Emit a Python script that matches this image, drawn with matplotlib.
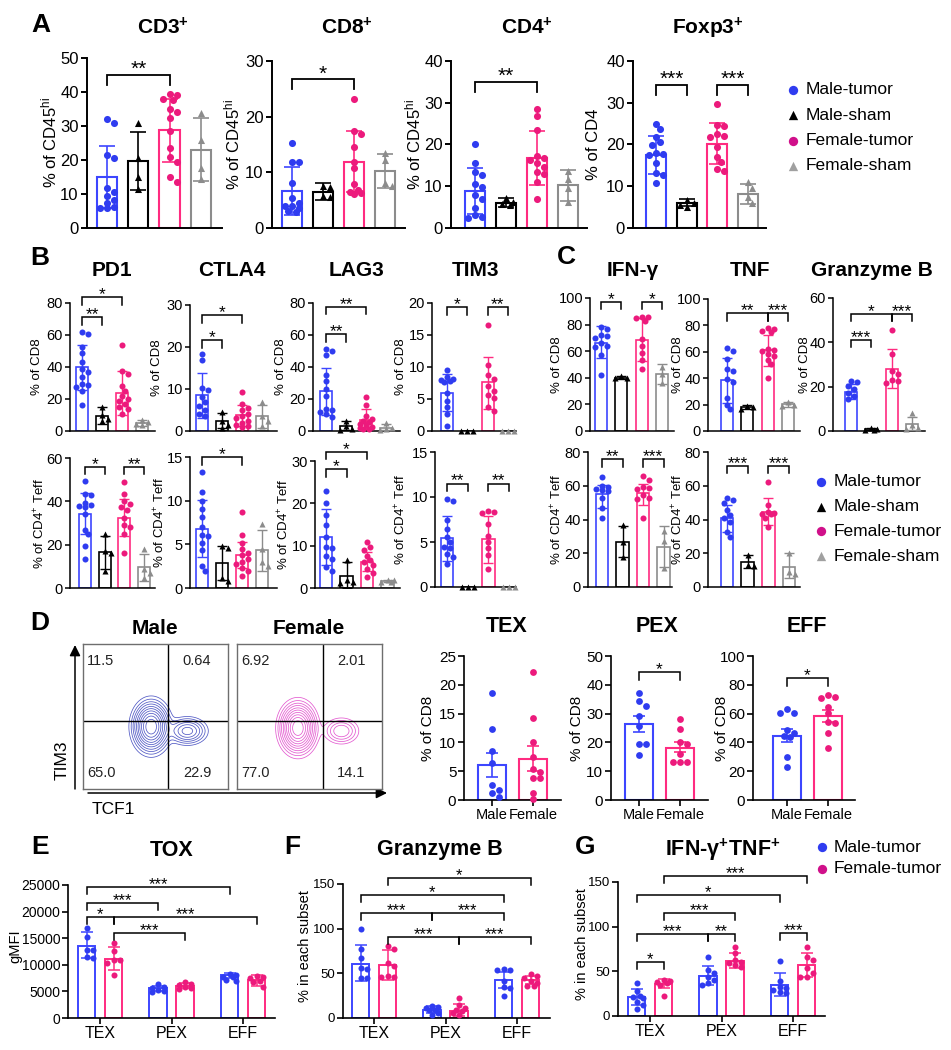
import numpy as np
import matplotlib
matplotlib.use("Agg")
import matplotlib.pyplot as plt

plt.rcParams['font.family'] = ['Liberation Sans', 'DejaVu Sans']
plt.rcParams['mathtext.fontset'] = 'custom'
plt.rcParams['mathtext.rm'] = 'Liberation Sans'
plt.rcParams['mathtext.it'] = 'Liberation Sans:italic'
plt.rcParams['mathtext.bf'] = 'Liberation Sans:bold'

# ---------------- DATA ----------------
GROUPS4 = ['Male-tumor', 'Male-sham', 'Female-tumor', 'Female-sham']

# Panel A
CD3_MEAN = [15.0, 19.7, 28.8, 23.0]
CD3_LO = [5.8, 11.2, 19.5, 13.7]
CD3_HI = [24.2, 28.2, 38.0, 32.3]
CD3_PTS = [[32.0, 31.0, 21.5, 20.5, 11.8, 10.7, 9.4, 8.2, 7.3, 6.3, 6.0, 6.0],
           [31.0, 20.5, 15.0, 11.5],
           [39.3, 39.0, 37.8, 37.5, 35.0, 34.2, 32.3, 28.5, 23.5, 21.0, 19.5, 15.0, 13.5],
           [33.9, 26.0, 17.5, 14.5]]
CD3_SIG = [(0, 2, 45.0, '**')]

CD8_MEAN = [6.6, 6.5, 11.9, 10.2]
CD8_LO = [2.3, 5.0, 6.4, 7.2]
CD8_HI = [11.0, 8.0, 17.4, 13.3]
CD8_PTS = [[15.2, 11.9, 11.8, 8.0, 5.4, 4.5, 3.9, 3.6, 3.0, 2.8, 4.0],
           [7.5, 7.4, 5.7, 5.5],
           [23.1, 17.5, 16.9, 14.5, 11.9, 10.7, 7.9, 6.9, 6.5, 6.3, 6.1],
           [13.5, 12.2, 8.0, 7.5]]
CD8_SIG = [(0, 2, 26.7, '*')]

CD4_MEAN = [8.9, 6.0, 16.7, 10.2]
CD4_LO = [3.4, 5.0, 10.2, 6.5]
CD4_HI = [14.4, 7.1, 23.3, 13.9]
CD4_PTS = [[20.1, 15.5, 13.5, 12.7, 10.5, 9.9, 7.9, 6.9, 4.7, 3.1, 2.7, 2.5],
           [7.3, 6.2, 5.8, 5.6],
           [28.4, 26.8, 23.5, 17.2, 16.8, 16.3, 15.5, 14.7, 13.5, 13.0, 7.0, 11.0],
           [13.6, 11.8, 9.5, 6.3]]
CD4_SIG = [(0, 2, 35.0, '**')]

FOXP3_MEAN = [17.5, 6.0, 20.2, 8.2]
FOXP3_LO = [13.0, 5.2, 15.3, 5.8]
FOXP3_HI = [22.0, 6.9, 25.2, 10.6]
FOXP3_PTS = [[24.9, 23.6, 21.9, 20.5, 19.9, 18.0, 17.7, 17.5, 15.5, 13.1, 12.7, 10.8],
             [6.7, 5.9, 5.5, 5.1],
             [29.6, 24.7, 24.4, 22.5, 22.1, 21.8, 19.5, 17.1, 15.7, 14.1, 13.7],
             [11.0, 9.6, 7.5, 6.0]]
FOXP3_SIG = [(0, 1, 34.3, '***'), (2, 3, 34.3, '***')]

# Panel B, CD8
PD1_MEAN = [39.9, 9.5, 23.7, 5.0]
PD1_LO = [25.8, 4.5, 10.0, 3.0]
PD1_HI = [54.0, 15.0, 37.8, 6.9]
PD1_PTS = [[61.9, 60.9, 52.5, 48.7, 43.0, 38.9, 36.7, 33.6, 29.4, 29.0, 27.3, 25.2, 16.4],
           [15.0, 10.0, 7.5, 6.3],
           [53.5, 37.8, 35.7, 28.3, 25.2, 22.0, 20.0, 18.9, 16.8, 14.7, 13.7, 10.5],
           [6.8, 5.6, 4.5, 3.5]]
PD1_SIG = [(0, 1, 71.0, '**'), (0, 2, 83.6, '*')]

CTLA4_MEAN = [8.5, 2.4, 3.8, 3.5]
CTLA4_LO = [3.1, 0.6, 1.3, 0.8]
CTLA4_HI = [13.9, 4.3, 6.3, 6.2]
CTLA4_PTS = [[18.3, 16.8, 10.2, 9.7, 8.2, 7.0, 6.0, 5.0, 4.0, 3.5],
             [4.5, 2.5, 1.5, 0.8],
             [9.3, 6.5, 5.5, 5.0, 4.0, 3.5, 3.0, 2.5, 2.0, 1.5, 1.2, 1.0],
             [7.0, 3.5, 2.5, 1.2]]
CTLA4_SIG = [(0, 1, 21.6, '*'), (0, 2, 27.6, '*')]

LAG3_MEAN = [24.9, 2.9, 6.8, 2.0]
LAG3_LO = [10.3, 0.5, 1.0, 0.5]
LAG3_HI = [39.5, 6.4, 13.6, 4.5]
LAG3_PTS = [[51.5, 50.0, 47.5, 35.3, 31.2, 26.0, 22.0, 14.0, 13.0, 12.0, 10.5, 9.0],
            [6.5, 3.0, 1.5, 0.5],
            [21.5, 16.5, 9.5, 7.5, 6.5, 5.5, 4.5, 3.5, 2.5, 2.0, 1.5, 1.0],
            [4.8, 2.0, 1.0, 0.5]]
LAG3_SIG = [(0, 1, 60.6, '**'), (0, 2, 77.7, '**')]

TIM3_MEAN = [6.0, 0.0, 7.6, 0.0]
TIM3_LO = [3.1, 0.0, 3.5, 0.0]
TIM3_HI = [8.9, 0.0, 11.6, 0.0]
TIM3_PTS = [[9.6, 8.4, 8.2, 8.0, 7.8, 7.6, 5.9, 4.7, 3.8, 2.6, 0.8],
            [0.0, 0.0, 0.0],
            [16.6, 10.3, 8.8, 8.1, 7.0, 6.3, 5.7, 5.2, 3.7, 3.2],
            [0.0, 0.0, 0.0]]
TIM3_SIG = [(0, 1, 19.3, '*'), (2, 3, 19.3, '**')]

# Panel B, CD4+ Teff
PD1T_MEAN = [34.3, 16.4, 32.4, 9.5]
PD1T_LO = [25.0, 8.9, 23.8, 3.2]
PD1T_HI = [43.7, 23.9, 41.0, 15.8]
PD1T_PTS = [[49.4, 43.3, 43.0, 39.4, 38.5, 38.0, 37.5, 34.0, 27.0, 24.7, 19.2, 13.3],
            [25.0, 17.0, 16.0, 8.0],
            [49.0, 43.3, 40.0, 39.0, 37.5, 36.0, 32.4, 29.3, 28.0, 24.7, 16.1],
            [18.0, 9.0, 7.0, 4.5]]
PD1T_SIG = [(0, 1, 56.0, '*'), (2, 3, 56.0, '**')]

CTLA4T_MEAN = [6.8, 2.85, 3.8, 4.3]
CTLA4T_LO = [3.5, 0.9, 2.3, 2.0]
CTLA4T_HI = [10.1, 4.8, 5.3, 6.6]
CTLA4T_PTS = [[13.3, 11.0, 10.0, 9.1, 8.1, 7.0, 6.1, 5.9, 5.1, 4.4, 1.9, 2.5],
              [4.8, 4.6, 1.2, 0.8],
              [8.7, 6.1, 5.2, 4.5, 4.0, 3.8, 3.3, 3.0, 2.7, 2.3, 1.9, 1.4],
              [7.3, 4.5, 3.0, 2.5]]
CTLA4T_SIG = [(0, 2, 15.0, '*')]

LAG3T_MEAN = [12.0, 2.9, 6.2, 1.65]
LAG3T_LO = [5.5, 0.0, 4.0, 1.3]
LAG3T_HI = [18.6, 6.2, 8.6, 2.0]
LAG3T_PTS = [[23.0, 20.0, 17.2, 14.9, 12.1, 9.8, 9.5, 7.6, 6.8, 5.0, 4.0],
             [6.5, 2.0, 1.5, 1.2],
             [10.9, 9.8, 9.0, 7.6, 6.5, 6.2, 5.4, 4.5, 3.6, 2.7],
             [2.0, 1.8, 1.5, 1.3]]
LAG3T_SIG = [(0, 1, 28.1, '*'), (0, 2, 32.2, '*')]

TIM3T_MEAN = [5.4, 0.0, 5.3, 0.0]
TIM3T_LO = [2.9, 0.0, 2.7, 0.0]
TIM3T_HI = [7.9, 0.0, 7.9, 0.0]
TIM3T_PTS = [[9.8, 9.6, 7.5, 6.5, 5.6, 5.0, 4.5, 4.3, 3.7, 3.3, 2.6],
             [0.0, 0.0, 0.0],
             [8.4, 8.3, 8.2, 7.0, 5.7, 5.0, 4.3, 3.6, 2.0],
             [0.0, 0.0, 0.0]]
TIM3T_SIG = [(0, 1, 11.5, '**'), (2, 3, 11.5, '**')]

# Panel C
IFNG_MEAN = [66.2, 40.1, 68.7, 42.5]
IFNG_LO = [55.0, 38.8, 53.0, 35.0]
IFNG_HI = [78.6, 41.5, 84.8, 50.0]
IFNG_PTS = [[78.5, 77.0, 72.5, 71.5, 70.0, 66.0, 64.0, 63.0, 57.5, 41.8],
            [41.0, 40.0, 39.5],
            [86.0, 85.5, 85.0, 83.0, 69.0, 64.2, 58.7, 53.7, 46.8],
            [48.0, 43.0, 36.0]]
IFNG_SIG = [(0, 1, 97.2, '*'), (2, 3, 97.2, '*')]

TNF_MEAN = [38.5, 18.0, 61.0, 20.3]
TNF_LO = [21.0, 16.5, 49.5, 18.5]
TNF_HI = [55.4, 19.5, 72.9, 22.0]
TNF_PTS = [[62.9, 60.4, 54.7, 46.6, 45.5, 39.1, 37.1, 25.3, 20.0, 16.5],
           [19.0, 18.0, 17.0],
           [78.0, 77.5, 76.0, 75.0, 62.0, 61.0, 60.4, 58.5, 56.6, 54.1, 50.4, 40.4],
           [22.0, 20.0, 19.0]]
TNF_SIG = [(0, 2, 89.2, '**'), (2, 3, 89.2, '***')]

GZB_MEAN = [17.6, 0.8, 27.8, 3.3]
GZB_LO = [14.5, 0.3, 19.2, 0.5]
GZB_HI = [21.0, 1.3, 37.2, 6.1]
GZB_PTS = [[22.5, 22.0, 20.3, 18.8, 17.0, 15.8, 14.5],
           [1.2, 0.8, 0.5, 0.4],
           [45.7, 34.9, 27.0, 25.5, 23.0, 22.5, 21.5],
           [8.0, 2.5, 1.5, 1.0]]
GZB_SIG = [(0, 1, 41.2, '***'), (0, 2, 52.8, '*'), (2, 3, 52.8, '***')]

IFNGT_MEAN = [54.9, 26.9, 55.9, 23.9]
IFNGT_LO = [46.6, 17.6, 48.8, 11.8]
IFNGT_HI = [60.5, 36.1, 61.0, 36.1]
IFNGT_PTS = [[65.4, 60.0, 59.0, 58.0, 57.5, 57.0, 52.6, 46.6, 40.7],
             [36.5, 26.5, 17.6],
             [65.8, 63.4, 59.1, 58.5, 58.0, 54.5, 52.6, 52.0, 40.7],
             [33.0, 27.0, 11.5]]
IFNGT_SIG = [(0, 1, 75.8, '**'), (2, 3, 75.8, '***')]

TNFT_MEAN = [40.7, 14.6, 44.6, 12.0]
TNFT_LO = [32.8, 11.0, 37.0, 5.5]
TNFT_HI = [48.6, 19.0, 52.9, 20.3]
TNFT_PTS = [[52.6, 51.5, 49.6, 45.6, 42.7, 41.0, 38.7, 32.8, 29.8],
            [19.0, 13.0, 12.5],
            [62.4, 48.6, 44.6, 44.0, 43.5, 43.0, 40.7, 35.7],
            [20.0, 9.0, 7.5]]
TNFT_SIG = [(0, 1, 71.9, '***'), (2, 3, 71.9, '***')]

# Panel D
SEX_LABELS = ['Male', 'Female']
MALE_QUAD = ['11.5', '0.64', '65.0', '22.9']
FEMALE_QUAD = ['6.92', '2.01', '77.0', '14.1']
# density blobs: (centre x, centre y, sd x, sd y, weight) in gate-box fractions
MALE_BLOBS = [(0.47, 0.43, 0.058, 0.08, 1.0), (0.72, 0.40, 0.065, 0.045, 0.35)]
FEMALE_BLOBS = [(0.42, 0.42, 0.058, 0.08, 1.0), (0.72, 0.40, 0.06, 0.045, 0.22)]
FLOW_LEVELS = [0.03, 0.06, 0.1, 0.15, 0.22, 0.3, 0.4, 0.52, 0.66, 0.82]

TEX_MEAN = [6.0, 7.1]
TEX_LO = [4.0, 5.0]
TEX_HI = [8.1, 9.3]
TEX_PTS = [[18.6, 12.4, 8.5, 6.5, 2.6, 1.8, 1.3, 0.6],
           [22.2, 14.3, 10.1, 7.4, 5.3, 4.9, 3.8, 3.8, 1.3, 0.2]]
PEX_MEAN = [26.3, 18.2]
PEX_LO = [23.7, 16.5]
PEX_HI = [29.3, 20.0]
PEX_PTS = [[37.2, 34.3, 32.6, 29.1, 25.6, 19.4, 19.4, 15.6],
           [28.1, 24.8, 20.0, 19.6, 15.9, 13.3, 13.3, 13.3]]
PEX_SIG = [(0, 1, 44.5, '*')]
EFF_MEAN = [44.4, 58.3]
EFF_LO = [40.0, 54.4]
EFF_HI = [49.0, 62.5]
EFF_PTS = [[63.0, 60.6, 60.6, 48.6, 46.8, 44.4, 44.0, 30.0, 23.0],
           [72.9, 71.8, 71.0, 64.8, 60.2, 54.4, 53.7, 46.3, 35.9]]
EFF_SIG = [(0, 1, 85.0, '*')]

# Panels E-G (bars: TEX-M, TEX-F, PEX-M, PEX-F, EFF-M, EFF-F)
SUBSETS = ['TEX', 'PEX', 'EFF']
TOX_MEAN = [13560, 11100, 5600, 6100, 8000, 7100]
TOX_LO = [11250, 9100, 5100, 5700, 7600, 6100]
TOX_HI = [16100, 13400, 6100, 6500, 8400, 8000]
TOX_PTS = [[17000, 15200, 12800, 12800, 11500, 11300],
           [14100, 12600, 10900, 10900, 10400, 8100],
           [6400, 5900, 5600, 5300, 5000, 4900],
           [6700, 6400, 5900, 5600, 5400, 6200],
           [8300, 8100, 7800, 7700, 7200, 6900],
           [7900, 7800, 7500, 6900, 6700, 5900]]
TOX_SIG = [(0, 4, 24700, '***'), (0, 2, 21600, '***'), (0, 1, 18900, '*'),
           (1, 5, 18900, '***'), (1, 3, 15900, '***')]

GZBS_MEAN = [61.0, 59.3, 8.6, 7.5, 42.0, 42.0]
GZBS_LO = [41.3, 43.0, 5.6, 2.6, 33.8, 38.0]
GZBS_HI = [81.8, 76.0, 13.0, 16.0, 51.7, 47.0]
GZBS_PTS = [[100, 77, 66.8, 56.3, 55, 45, 45],
            [80.6, 77.6, 61.9, 58, 46.9, 46, 45.7],
            [13.9, 12.4, 11.3, 9.4, 8.6, 5.6, 3.7],
            [22.5, 15, 11.3, 9, 7.5, 5.6, 3.7],
            [55, 53.6, 53.6, 41.3, 34.9, 33.8, 24.4],
            [48.8, 46.9, 45, 41.3, 39.4, 35.6, 35.6]]
GZBS_SIG = [(1, 5, 156.4, '*'), (0, 4, 137.6, '*'), (0, 2, 118, '***'),
            (2, 4, 118, '***'), (1, 3, 90.7, '***'), (3, 5, 90.7, '***')]

DP_MEAN = [20.8, 35.7, 45.0, 61.8, 34.6, 56.9]
DP_LO = [12.3, 30.9, 34.6, 54.0, 22.7, 43.9]
DP_HI = [29.8, 40.9, 55.8, 70.7, 47.6, 70.0]
DP_PTS = [[36.5, 28.3, 22.3, 20.8, 19.7, 16.0, 12.3, 7.4],
          [40.2, 39.4, 38.3, 36.5, 34.6, 22.3],
          [65.5, 51.4, 47.6, 43.9, 40.2, 36.5, 34.6],
          [77.4, 70.7, 62.5, 60.7, 58.8, 56.9, 55.0],
          [61.8, 39.4, 32.7, 30.9, 29.0, 27.2, 25.3],
          [76.7, 65.5, 62.5, 53.2, 48.4, 43.9, 43.2]]
DP_SIG = [(1, 5, 156.3, '***'), (0, 4, 135.8, '*'), (1, 3, 115.7, '***'),
          (0, 2, 92.3, '***'), (2, 3, 92.3, '**'), (4, 5, 93.4, '***'), (0, 1, 60.7, '*')]

# ---------------- STYLE ----------------
BLUE = '#2f3cf0'
BLUE_E = '#3d46ff'
PINK = '#ec1a7c'
PINK_E = '#ff2b80'
GRAY = '#8c8c8c'
BLACK = '#000000'
LEG_PINK = '#d0108a'
LEG_GRAY = '#a0a0a0'
C4 = [BLUE, BLACK, PINK, GRAY]
E4 = [BLUE_E, BLACK, PINK_E, GRAY]
M4 = ['o', '^', 'o', '^']

W, H = 951, 1050
fig = plt.figure(figsize=(W / 100, H / 100), dpi=100)


def rect(L, R, T, B):
    return [L / W, 1 - B / H, (R - L) / W, (B - T) / H]


def make_ax(L, R, T, B, ymax, x0px, sp, yticks, lw=1.2, tfs=10, tlen=4):
    ax = fig.add_axes(rect(L, R, T, B))
    ax.set_xlim((L - x0px) / sp, (R - x0px) / sp)
    ax.set_ylim(0, ymax)
    ax.patch.set_alpha(0)
    for s in ['top', 'right']:
        ax.spines[s].set_visible(False)
    for s in ['left', 'bottom']:
        ax.spines[s].set_linewidth(lw)
    ax.set_yticks(yticks)
    ax.set_xticks([])
    ax.tick_params(axis='both', length=tlen, width=lw, labelsize=tfs, pad=1.5)
    ax._ypx = (B - T) / ymax
    ax._xpx = sp
    return ax


def swarm(vals, ypx, xpx, d, maxw):
    placed = []
    res = [0.0] * len(vals)
    order = sorted(range(len(vals)), key=lambda i: -vals[i])
    step = d * 0.5
    cands = [0.0]
    k = 1
    while k * step <= maxw + 0.01:
        cands += [k * step, -k * step]
        k += 1
    for i in order:
        y = vals[i] * ypx
        best = None
        for c in cands:
            if all((c - px) ** 2 + (y - py) ** 2 >= (d * 0.9) ** 2 for px, py in placed):
                best = c
                break
        if best is None:
            best = max(cands, key=lambda c: min((c - px) ** 2 + (y - py) ** 2 for px, py in placed))
        placed.append((best, y))
        res[i] = best / xpx
    return np.array(res)


def draw_bars(ax, xs, means, lo, hi, pts, cols, ecols, mks, width, lw, s, cap, elw):
    dpx = np.sqrt(s) * 100 / 72.0
    halfw = width * ax._xpx / 2 - dpx / 2
    for i, x in enumerate(xs):
        ax.bar(x, means[i], width=width, facecolor='none', edgecolor=ecols[i],
               linewidth=lw, zorder=2)
        if hi[i] > lo[i]:
            ax.errorbar(x, means[i], yerr=[[means[i] - lo[i]], [hi[i] - means[i]]],
                        fmt='none', ecolor=ecols[i], elinewidth=elw, capsize=cap,
                        capthick=elw, zorder=3)
        offs = swarm(pts[i], ax._ypx, ax._xpx, dpx, max(halfw, dpx))
        ax.scatter(x + offs, pts[i], s=s, marker=mks[i], color=cols[i], zorder=4,
                   clip_on=False, linewidths=0)


def bracket(ax, xa, xb, y, label, drop_px, fs, off, lw=1.0):
    dy = drop_px / ax._ypx
    ax.plot([xa, xa, xb, xb], [y - dy, y, y, y - dy], color='k', lw=lw, clip_on=False,
            solid_joinstyle='miter', zorder=5)
    ax.annotate(label, xy=((xa + xb) / 2, y), xytext=(0, off), textcoords='offset points',
                ha='center', va='baseline', fontsize=fs, annotation_clip=False)


# overlay in pixel coordinates for titles / labels / legends
ov = fig.add_axes([0, 0, 1, 1])
ov.set_xlim(0, W)
ov.set_ylim(H, 0)
ov.axis('off')


def title(x, y, s, fs=15):
    ov.text(x, y, s, ha='center', va='center', fontsize=fs, fontweight='bold')


def ylab(x, y, s, fs):
    ov.text(x, y, s, ha='center', va='center', rotation=90, fontsize=fs)


def letter(x, y, s):
    ov.text(x, y, s, ha='center', va='center', fontsize=19, fontweight='bold')


# ---------------- PANEL A ----------------
letter(41, 25, 'A')
A_SPECS = [
    (87, 222, 58, 107, 31.3, 50, [0, 10, 20, 30, 40, 50], CD3_MEAN, CD3_LO, CD3_HI, CD3_PTS, CD3_SIG,
     'CD3$^{\\mathbf{+}}$', '% of CD45$^{\\mathrm{hi}}$', 49),
    (272, 405, 61, 292, 31.0, 30, [0, 10, 20, 30], CD8_MEAN, CD8_LO, CD8_HI, CD8_PTS, CD8_SIG,
     'CD8$^{\\mathbf{+}}$', '% of CD45$^{\\mathrm{hi}}$', 232),
    (451, 587, 61, 475, 31.0, 40, [0, 10, 20, 30, 40], CD4_MEAN, CD4_LO, CD4_HI, CD4_PTS, CD4_SIG,
     'CD4$^{\\mathbf{+}}$', '% of CD45$^{\\mathrm{hi}}$', 413),
    (633, 766, 61, 656, 30.7, 40, [0, 10, 20, 30, 40], FOXP3_MEAN, FOXP3_LO, FOXP3_HI, FOXP3_PTS,
     FOXP3_SIG, 'Foxp3$^{\\mathbf{+}}$', '% of CD4', 594),
]
for (L, R, T, x0, sp, ymax, yt, mean, lo, hi, pts, sig, ttl, yl, ylx) in A_SPECS:
    B = 228
    ax = make_ax(L, R, T, B, ymax, x0, sp, yt, lw=1.4, tfs=12, tlen=4.5)
    draw_bars(ax, range(4), mean, lo, hi, pts, C4, E4, M4, 0.65, 1.5, 26, 5.5, 1.2)
    for a, b, y, lab in sig:
        bracket(ax, a, b, y, lab, 10, 15, 0, lw=1.3)
    title((L + R) / 2 + 8, 28, ttl, 15)
    ylab(ylx, (T + B) / 2, yl, 12)

# legend A
for k, (lab, col, mk) in enumerate(zip(GROUPS4, [BLUE, BLACK, LEG_PINK, LEG_GRAY], M4)):
    y = 90 + k * 25.3
    ov.scatter([793], [y], s=45, marker=mk, color=col, linewidths=0)
    ov.text(806, y, lab, ha='left', va='center', fontsize=12.5)

# ---------------- PANELS B, C ----------------
letter(40, 258, 'B')
letter(566, 257, 'C')
BC_SPECS = [
    # L, R, T, B, x0, sp, ymax, yticks, mean, lo, hi, pts, sig, title, ylabel, ylx
    (70, 155, 303, 431, 82, 20.0, 80, [0, 20, 40, 60, 80], PD1_MEAN, PD1_LO, PD1_HI, PD1_PTS, PD1_SIG, 'PD1', '% of CD8', 37),
    (190, 277, 305, 431, 202, 20.0, 30, [0, 10, 20, 30], CTLA4_MEAN, CTLA4_LO, CTLA4_HI, CTLA4_PTS, CTLA4_SIG, 'CTLA4', '% of CD8', 157),
    (313, 400, 303, 431, 326, 20.0, 80, [0, 20, 40, 60, 80], LAG3_MEAN, LAG3_LO, LAG3_HI, LAG3_PTS, LAG3_SIG, 'LAG3', '% of CD8', 281),
    (432, 516, 303, 431, 447, 20.3, 20, [0, 5, 10, 15, 20], TIM3_MEAN, TIM3_LO, TIM3_HI, TIM3_PTS, TIM3_SIG, 'TIM3', '% of CD8', 401),
    (590, 674, 298, 431, 601, 20.3, 100, [0, 20, 40, 60, 80, 100], IFNG_MEAN, IFNG_LO, IFNG_HI, IFNG_PTS, IFNG_SIG, 'IFN-γ', '% of CD8', 557),
    (708, 800, 299, 431, 727, 20.3, 100, [0, 20, 40, 60, 80, 100], TNF_MEAN, TNF_LO, TNF_HI, TNF_PTS, TNF_SIG, 'TNF', '% of CD8', 678),
    (833, 925, 298, 431, 851, 20.3, 60, [0, 20, 40, 60], GZB_MEAN, GZB_LO, GZB_HI, GZB_PTS, GZB_SIG, 'Granzyme B', '% of CD8', 805),
    (70, 155, 458, 588, 85, 19.7, 60, [0, 20, 40, 60], PD1T_MEAN, PD1T_LO, PD1T_HI, PD1T_PTS, PD1T_SIG, None, '% of CD4$^{+}$ Teff', 40),
    (190, 277, 457, 588, 202, 20.0, 15, [0, 5, 10, 15], CTLA4T_MEAN, CTLA4T_LO, CTLA4T_HI, CTLA4T_PTS, CTLA4T_SIG, None, '% of CD4$^{+}$ Teff', 160),
    (315, 400, 461, 588, 326, 20.5, 30, [0, 10, 20, 30], LAG3T_MEAN, LAG3T_LO, LAG3T_HI, LAG3T_PTS, LAG3T_SIG, None, '% of CD4$^{+}$ Teff', 284),
    (435, 516, 452, 587, 447, 20.7, 15, [0, 5, 10, 15], TIM3T_MEAN, TIM3T_LO, TIM3T_HI, TIM3T_PTS, TIM3T_SIG, None, '% of CD4$^{+}$ Teff', 401),
    (588, 672, 452, 587, 602, 20.5, 80, [0, 20, 40, 60, 80], IFNGT_MEAN, IFNGT_LO, IFNGT_HI, IFNGT_PTS, IFNGT_SIG, None, '% of CD4$^{+}$ Teff', 557),
    (708, 800, 452, 587, 727, 20.7, 80, [0, 20, 40, 60, 80], TNFT_MEAN, TNFT_LO, TNFT_HI, TNFT_PTS, TNFT_SIG, None, '% of CD4$^{+}$ Teff', 678),
]
TITLE_X = {'PD1': 112, 'CTLA4': 232, 'LAG3': 356, 'TIM3': 475, 'IFN-γ': 633, 'TNF': 750, 'Granzyme B': 872}
for (L, R, T, B, x0, sp, ymax, yt, mean, lo, hi, pts, sig, ttl, yl, ylx) in BC_SPECS:
    ax = make_ax(L, R, T, B, ymax, x0, sp, yt, lw=1.1, tfs=10.5, tlen=3.5)
    draw_bars(ax, range(4), mean, lo, hi, pts, C4, E4, M4, 0.6, 1.2, 19, 3.5, 1.0)
    for a, b, y, lab in sig:
        bracket(ax, a, b, y, lab, 7.5, 12.5, -1.5, lw=1.1)
    if ttl:
        title(TITLE_X[ttl], 270, ttl, 15)
    ylab(ylx, (T + B) / 2, yl, 9.5)

# legend C
for k, (lab, col, mk) in enumerate(zip(GROUPS4, [BLUE, BLACK, LEG_PINK, LEG_GRAY], M4)):
    y = 482 + k * 24.7
    ov.scatter([821], [y], s=45, marker=mk, color=col, linewidths=0)
    ov.text(834, y, lab, ha='left', va='center', fontsize=12.5)

# ---------------- PANEL D ----------------
letter(40, 623, 'D')


def flow(L, R, T, B, blobs, qx, qy, color, labels):
    ax = fig.add_axes(rect(L, R, T, B))
    ax.set_xlim(0, 1)
    ax.set_ylim(0, 1)
    ax.set_xticks([])
    ax.set_yticks([])
    for s in ax.spines.values():
        s.set_color('#6e6e6e')
        s.set_linewidth(1.0)
    g = np.linspace(0, 1, 300)
    X, Y = np.meshgrid(g, g)
    Z = np.zeros_like(X)
    for cx, cy, sx, sy, w in blobs:
        Z += w * np.exp(-((X - cx) ** 2 / (2 * sx ** 2) + (Y - cy) ** 2 / (2 * sy ** 2)))
    ax.contour(X, Y, Z, levels=Z.max() * np.array(FLOW_LEVELS), colors=color, linewidths=0.55)
    ax.axvline(qx, color='k', lw=1.0)
    ax.axhline(qy, color='k', lw=1.0)
    kw = dict(fontsize=10.5, color='#222222', va='center')
    ax.text(0.03, 0.88, labels[0], ha='left', **kw)
    ax.text(0.885, 0.88, labels[1], ha='right', **kw)
    ax.text(0.03, 0.11, labels[2], ha='left', **kw)
    ax.text(0.885, 0.11, labels[3], ha='right', **kw)
    return ax


flow(83, 228, 644, 789, MALE_BLOBS, 0.586, 0.469, '#5058c4', MALE_QUAD)
flow(237, 382, 644, 789, FEMALE_BLOBS, 0.593, 0.469, '#e35ad0', FEMALE_QUAD)
title(155, 629, 'Male', 15)
title(309, 629, 'Female', 15)
ov.annotate('', xy=(75, 645), xytext=(75, 789),
            arrowprops=dict(arrowstyle='-|>', color='k', lw=1.1, mutation_scale=16, shrinkA=0, shrinkB=0))
ov.annotate('', xy=(387, 793), xytext=(88, 793),
            arrowprops=dict(arrowstyle='-|>', color='k', lw=1.1, mutation_scale=16, shrinkA=0, shrinkB=0))
ov.text(62, 760, 'TIM3', rotation=90, ha='center', va='center', fontsize=12.5)
ov.text(113, 810, 'TCF1', ha='center', va='center', fontsize=12.5)

D_SPECS = [
    (464, 561, 492, 41, 25, [0, 5, 10, 15, 20, 25], TEX_MEAN, TEX_LO, TEX_HI, TEX_PTS, [], 'TEX', 507, 428),
    (611, 708, 639, 41, 50, [0, 10, 20, 30, 40, 50], PEX_MEAN, PEX_LO, PEX_HI, PEX_PTS, PEX_SIG, 'PEX', 657, 577),
    (753, 855, 787, 41, 100, [0, 20, 40, 60, 80, 100], EFF_MEAN, EFF_LO, EFF_HI, EFF_PTS, EFF_SIG, 'EFF', 807, 722),
]
for (L, R, x0, sp, ymax, yt, mean, lo, hi, pts, sig, ttl, tx, ylx) in D_SPECS:
    T, B = 656, 800
    ax = make_ax(L, R, T, B, ymax, x0, sp, yt, lw=1.2, tfs=11, tlen=4)
    ax.set_xticks([0, 1])
    ax.set_xticklabels(SEX_LABELS, fontsize=10.5)
    draw_bars(ax, [0, 1], mean, lo, hi, pts, [BLUE, PINK], [BLUE_E, PINK_E], ['o', 'o'],
              0.66, 1.5, 24, 4.5, 1.2)
    for a, b, y, lab in sig:
        bracket(ax, a, b, y, lab, 8, 12.5, -1.5, lw=1.1)
    title(tx, 627, ttl, 15.5)
    ylab(ylx, (T + B) / 2, '% of CD8', 11)

# ---------------- PANELS E, F, G ----------------
letter(40, 847, 'E')
letter(292, 847, 'F')
letter(585, 847, 'G')
EFG_SPECS = [
    (68, 275, 885, 1018, 100, 25000, [0, 5000, 10000, 15000, 20000, 25000], TOX_MEAN, TOX_LO, TOX_HI,
     TOX_PTS, TOX_SIG, 'TOX', 172, 'gMFI', 15, 10),
    (343, 550, 884, 1018, 374, 150, [0, 50, 100, 150], GZBS_MEAN, GZBS_LO, GZBS_HI, GZBS_PTS, GZBS_SIG,
     'Granzyme B', 440, '% in each subset', 305, 9.5),
    (618, 825, 882, 1016, 650, 150, [0, 50, 100, 150], DP_MEAN, DP_LO, DP_HI, DP_PTS, DP_SIG,
     'IFN-γ$^{\\mathbf{+}}$TNF$^{\\mathbf{+}}$', 723, '% in each subset', 582, 9.5),
]
OFF = 13.5 / 71.5
for (L, R, T, B, x0, ymax, yt, mean, lo, hi, pts, sig, ttl, tx, yl, ylx, tfs) in EFG_SPECS:
    ax = make_ax(L, R, T, B, ymax, x0, 71.5, yt, lw=1.2, tfs=tfs, tlen=4)
    ax.set_xticks([0, 1, 2])
    ax.set_xticklabels(SUBSETS, fontsize=11.5)
    xs = [g + d for g in range(3) for d in (-OFF, OFF)]
    draw_bars(ax, xs, mean, lo, hi, pts, [BLUE, PINK] * 3, [BLUE_E, PINK_E] * 3, ['o', 'o'] * 3,
              0.24, 1.4, 19, 4, 1.1)
    for a, b, y, lab in sig:
        bracket(ax, xs[a], xs[b], y, lab, 7, 12, -1.5, lw=1.1)
    title(tx, 850, ttl, 15.5)
    ylab(ylx, (T + B) / 2 - 5, yl, 10.5)

# legend G
for k, (lab, col) in enumerate(zip(['Male-tumor', 'Female-tumor'], [BLUE, LEG_PINK])):
    y = 847 + k * 21.5
    ov.scatter([822], [y], s=45, marker='o', color=col, linewidths=0)
    ov.text(834, y, lab, ha='left', va='center', fontsize=12.5)

fig.savefig('out.png', dpi=100)
